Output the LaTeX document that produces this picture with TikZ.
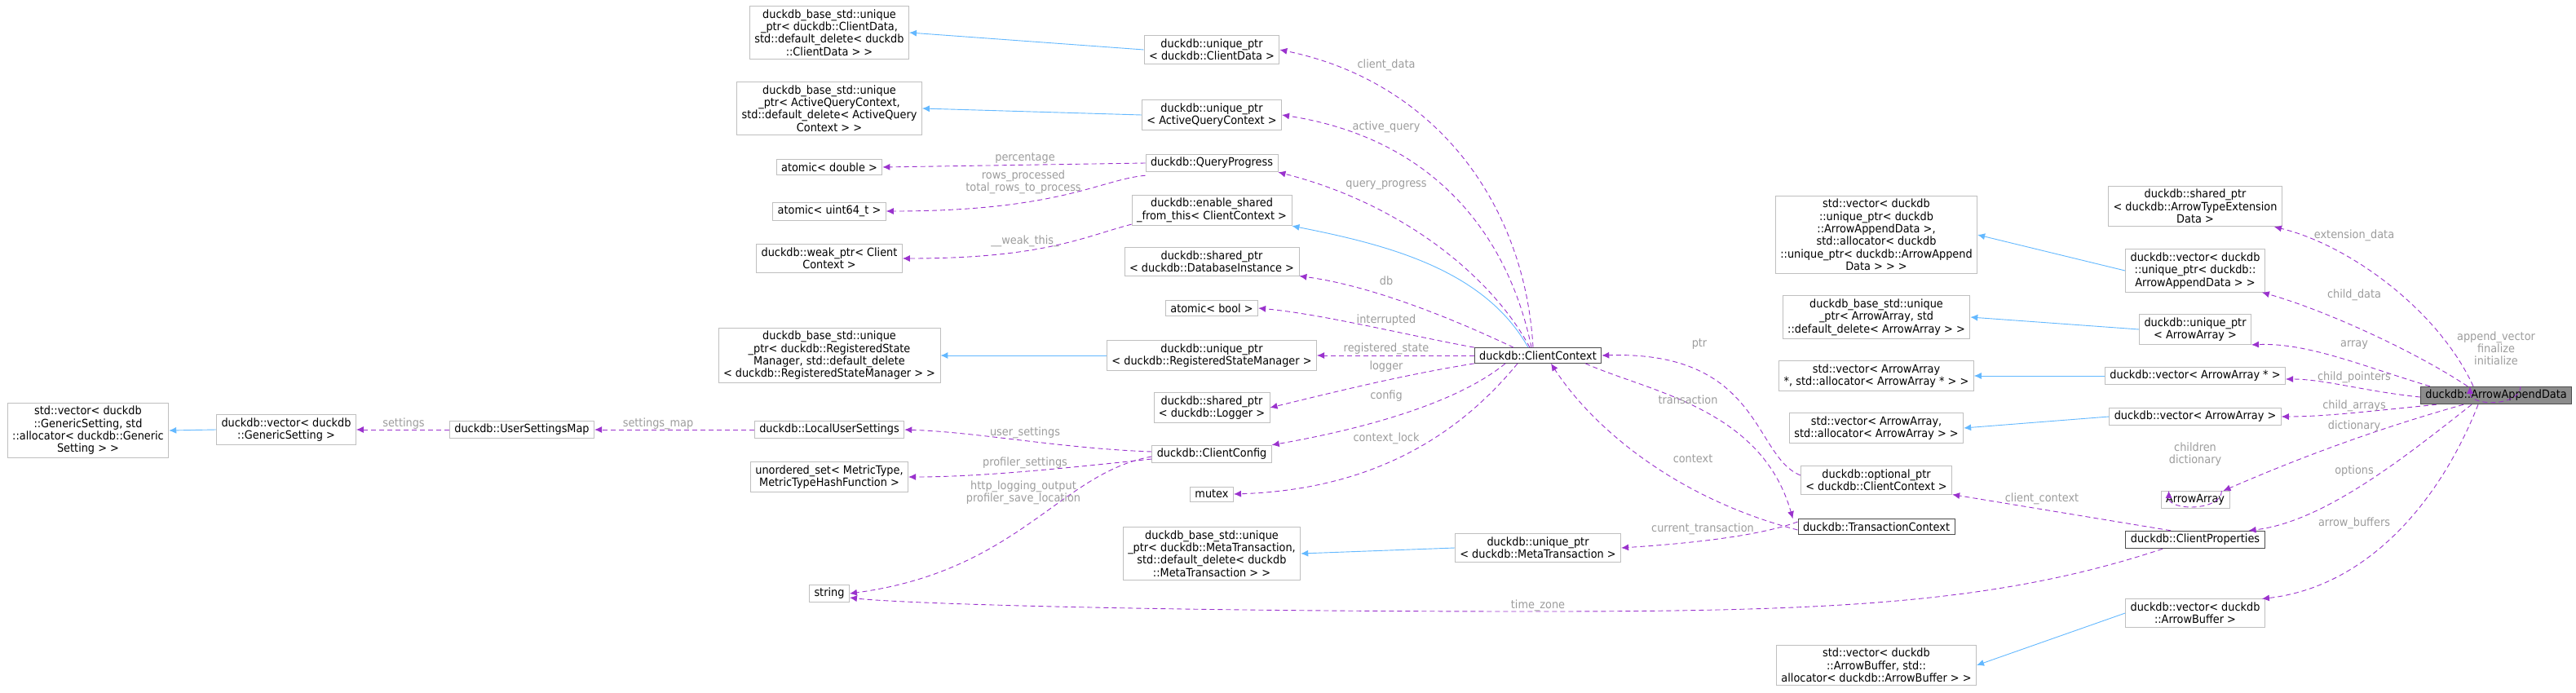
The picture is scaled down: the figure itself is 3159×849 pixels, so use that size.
\documentclass[tikz,border=0pt]{standalone}
\usepackage{fontspec}
\setmainfont{DejaVu Sans}[FakeStretch=0.92]
\usetikzlibrary{arrows.meta}
\definecolor{edgemember}{HTML}{9A32CD}
\definecolor{edgebase}{HTML}{63B8FF}
\definecolor{boxline}{HTML}{BFBFBF}
\definecolor{lbltext}{HTML}{9C9C9C}
\begin{document}
\begin{tikzpicture}[%
x=1pt,y=-1pt,
box/.style={draw=boxline,line width=0.9pt,fill=white,align=center,inner xsep=6pt,inner ysep=4pt,font=\fontsize{14}{15.4}\selectfont},
strong/.style={box,draw=black!70},
focus/.style={box,draw=black!70,fill=black!45},
lbl/.style={text=lbltext,align=center,font=\fontsize{14}{15}\selectfont},
member/.style={draw=edgemember,dashed,dash pattern=on 6pt off 4pt,line width=0.9pt,-{Latex[length=9pt,width=8pt]}},
base/.style={draw=edgebase,line width=0.9pt,-{Latex[length=9pt,width=8pt]}},
]
\useasboundingbox (0,0) rectangle (3159,849);
%% column 1;
\node[box] (stdvecgs) at (108,528) {std::vector< duckdb\\::GenericSetting, std\\::allocator< duckdb::Generic\\Setting > >};
\node[box] (vecgs) at (351,527) {duckdb::vector< duckdb\\::GenericSetting >};
\node[box] (usmap) at (640,527) {duckdb::UserSettingsMap};
%% column 2;
\node[box] (uqcdbase) at (1017,40) {duckdb\_base\_std::unique\\\_ptr< duckdb::ClientData,\\std::default\_delete< duckdb\\::ClientData > >};
\node[box] (uqaqbase) at (1017,133) {duckdb\_base\_std::unique\\\_ptr< ActiveQueryContext,\\std::default\_delete< ActiveQuery\\Context > >};
\node[box] (atomdbl) at (1017,205) {atomic< double >};
\node[box] (atomu64) at (1017,259) {atomic< uint64\_t >};
\node[box] (weakcc) at (1017,317) {duckdb::weak\_ptr< Client\\Context >};
\node[box] (uqrsbase) at (1017,436) {duckdb\_base\_std::unique\\\_ptr< duckdb::RegisteredState\\Manager, std::default\_delete\\< duckdb::RegisteredStateManager > >};
\node[box] (localus) at (1017,527) {duckdb::LocalUserSettings};
\node[box] (uset) at (1017,585) {unordered\_set< MetricType,\\MetricTypeHashFunction >};
\node[box] (str) at (1017,728) {string};
%% column 3;
\node[box] (uqcd) at (1486,61) {duckdb::unique\_ptr\\< duckdb::ClientData >};
\node[box] (uqaq) at (1486,141) {duckdb::unique\_ptr\\< ActiveQueryContext >};
\node[box] (qprog) at (1486,200) {duckdb::QueryProgress};
\node[box] (esft) at (1486,258) {duckdb::enable\_shared\\\_from\_this< ClientContext >};
\node[box] (spdb) at (1486,321) {duckdb::shared\_ptr\\< duckdb::DatabaseInstance >};
\node[box] (atombool) at (1486,378) {atomic< bool >};
\node[box] (uqrs) at (1486,436) {duckdb::unique\_ptr\\< duckdb::RegisteredStateManager >};
\node[box] (splog) at (1486,500) {duckdb::shared\_ptr\\< duckdb::Logger >};
\node[box] (cconf) at (1486,557) {duckdb::ClientConfig};
\node[box] (mtx) at (1486,606) {mutex};
\node[box] (uqmtbase) at (1486,679) {duckdb\_base\_std::unique\\\_ptr< duckdb::MetaTransaction,\\std::default\_delete< duckdb\\::MetaTransaction > >};
%% column 4;
\node[strong] (cctx) at (1886,436) {duckdb::ClientContext};
\node[box] (uqmt) at (1886,672) {duckdb::unique\_ptr\\< duckdb::MetaTransaction >};
%% column 5;
\node[box] (stdvecaad) at (2301,288) {std::vector< duckdb\\::unique\_ptr< duckdb\\::ArrowAppendData >,\\std::allocator< duckdb\\::unique\_ptr< duckdb::ArrowAppend\\Data > > >};
\node[box] (uqaabase) at (2301,389) {duckdb\_base\_std::unique\\\_ptr< ArrowArray, std\\::default\_delete< ArrowArray > >};
\node[box] (stdvecaap) at (2301,461) {std::vector< ArrowArray\\*, std::allocator< ArrowArray * > >};
\node[box] (stdvecaa) at (2301,525) {std::vector< ArrowArray,\\std::allocator< ArrowArray > >};
\node[box] (optcc) at (2301,589) {duckdb::optional\_ptr\\< duckdb::ClientContext >};
\node[strong] (tctx) at (2301,646) {duckdb::TransactionContext};
\node[box] (stdvecab) at (2301,816) {std::vector< duckdb\\::ArrowBuffer, std::\\allocator< duckdb::ArrowBuffer > >};
%% column 6;
\node[box] (spext) at (2692,253) {duckdb::shared\_ptr\\< duckdb::ArrowTypeExtension\\Data >};
\node[box] (vecaad) at (2692,332) {duckdb::vector< duckdb\\::unique\_ptr< duckdb::\\ArrowAppendData > >};
\node[box] (uqaa) at (2692,404) {duckdb::unique\_ptr\\< ArrowArray >};
\node[box] (vecaap) at (2692,461) {duckdb::vector< ArrowArray * >};
\node[box] (vecaa) at (2692,511) {duckdb::vector< ArrowArray >};
\node[box] (aarr) at (2692,613) {ArrowArray};
\node[strong] (cprops) at (2692,662) {duckdb::ClientProperties};
\node[box] (vecab) at (2692,752) {duckdb::vector< duckdb\\::ArrowBuffer >};
%% column 7;
\node[focus] (aad) at (3061,485) {duckdb::ArrowAppendData};
%% inheritance;
\draw[base] (uqcd.west) -- (uqcdbase.east);
\draw[base] (uqaq.west) -- (uqaqbase.east);
\draw[base] (uqrs.west) -- (uqrsbase.east);
\draw[base] (uqmt.west) -- (uqmtbase.east);
\draw[base] (vecgs.west) -- (stdvecgs.east);
\draw[base] (vecaad.west) -- (stdvecaad.east);
\draw[base] (uqaa.west) -- (uqaabase.east);
\draw[base] (vecaap.west) -- (stdvecaap.east);
\draw[base] (vecaa.west) -- (stdvecaa.east);
\draw[base] (vecab.west) -- (stdvecab.east);
\draw[base] ([xshift=-12pt]cctx.north) .. controls (1820,330) and (1700,300) .. (esft.south east);
%% ClientContext members;
\draw[member] ([xshift=-6pt]cctx.north) .. controls (1870,250) and (1760,100) .. (uqcd.east);
\draw[member] ([xshift=-8pt]cctx.north) .. controls (1850,290) and (1760,170) .. (uqaq.east);
\draw[member] ([xshift=-10pt]cctx.north) .. controls (1830,340) and (1720,250) .. (qprog.south east);
\draw[member] ([xshift=-30pt]cctx.north) .. controls (1780,390) and (1680,350) .. (spdb.south east);
\draw[member] (cctx.north west) .. controls (1720,410) and (1620,385) .. (atombool.east);
\draw[member] (cctx.west) -- (uqrs.east);
\draw[member] (cctx.south west) .. controls (1720,460) and (1640,480) .. (splog.east);
\draw[member] ([xshift=-40pt]cctx.south) .. controls (1780,500) and (1650,530) .. (cconf.north east);
\draw[member] ([xshift=-25pt]cctx.south) .. controls (1800,520) and (1700,600) .. (mtx.east);
\draw[member] ([xshift=-20pt]cctx.south east) .. controls (2020,480) and (2160,500) .. ([xshift=-6pt]tctx.north west);
\node[lbl] (lcd) at (1700,80) {client\_data};
\node[lbl] (laq) at (1700,156) {active\_query};
\node[lbl] (lqp) at (1700,227) {query\_progress};
\node[lbl] (ldb) at (1700,344) {db};
\node[lbl] (lint) at (1700,393) {interrupted};
\node[lbl] (lrs) at (1700,428) {registered\_state};
\node[lbl] (llog) at (1700,450) {logger};
\node[lbl] (lconf) at (1700,486) {config};
\node[lbl] (lcl) at (1700,538) {context\_lock};
\node[lbl] (ltr) at (2070,490) {transaction};
%% back references;
\draw[member] ([yshift=6pt]optcc.west) .. controls (2150,560) and (2160,430) .. (cctx.east);
\draw[member] ([yshift=-4pt]tctx.west) .. controls (2050,610) and (1950,520) .. ([xshift=16pt]cctx.south);
\draw[member] ([yshift=6pt]tctx.west) .. controls (2150,660) and (2050,668) .. (uqmt.east);
\node[lbl] (lptr) at (2084,422) {ptr};
\node[lbl] (lctx) at (2076,563) {context};
\node[lbl] (lct) at (2088,649) {current\_transaction};
%% QueryProgress, enable_shared, ClientConfig;
\draw[member] (qprog.west) -- (atomdbl.east);
\draw[member] ([yshift=-4pt]qprog.south west) .. controls (1350,220) and (1300,259) .. (atomu64.east);
\draw[member] ([yshift=2pt]esft.south west) .. controls (1330,290) and (1280,317) .. (weakcc.east);
\draw[member] ([yshift=3pt]cconf.west) .. controls (1300,550) and (1200,530) .. (localus.east);
\draw[member] ([yshift=-6pt]cconf.west) .. controls (1300,575) and (1200,585) .. (uset.east);
\draw[member] ([yshift=-3pt]cconf.west) .. controls (1300,580) and (1250,700) .. (str.east);
\draw[member] (localus.west) -- (usmap.east);
\draw[member] (usmap.west) -- (vecgs.east);
\node[lbl] (lpct) at (1257,194) {percentage};
\node[lbl] (lrows) at (1255,223) {rows\_processed\\total\_rows\_to\_process};
\node[lbl] (lwt) at (1257,296) {\_\_weak\_this\_};
\node[lbl] (lus) at (1257,531) {user\_settings};
\node[lbl] (lps) at (1257,568) {profiler\_settings};
\node[lbl] (lhttp) at (1255,604) {http\_logging\_output\\profiler\_save\_location};
\node[lbl] (lsm) at (807,520) {settings\_map};
\node[lbl] (lset) at (495,520) {settings};
%% ClientProperties;
\draw[member] ([xshift=-30pt]cprops.north) -- (optcc.south east);
\draw[member] ([xshift=-40pt]cprops.south) .. controls (2450,740) and (2250,750) .. (1886,750) .. controls (1400,750) and (1100,740) .. ([yshift=-5pt]str.east);
\node[lbl] (lcc) at (2504,612) {client\_context};
\node[lbl] (ltz) at (1886,743) {time\_zone};
%% ArrowAppendData members;
\draw[member] ([xshift=-28pt]aad.north) .. controls (2990,380) and (2880,300) .. ([xshift=-10pt]spext.south east);
\draw[member] ([xshift=-35pt]aad.north) .. controls (2960,430) and (2850,380) .. ([xshift=-4pt]vecaad.south east);
\draw[member] ([xshift=12pt]aad.north west) .. controls (2900,450) and (2830,420) .. (uqaa.south east);
\draw[member] ([yshift=-2pt]aad.west) .. controls (2900,480) and (2850,465) .. ([yshift=-4pt]vecaap.east);
\draw[member] ([xshift=20pt]aad.south west) .. controls (2900,505) and (2850,511) .. (vecaa.east);
\draw[member] ([xshift=-40pt]aad.south) .. controls (2900,530) and (2800,570) .. ([xshift=-8pt]aarr.north east);
\draw[member] ([xshift=-30pt]aad.south) .. controls (2950,560) and (2850,640) .. ([xshift=-20pt]cprops.north east);
\draw[member] ([xshift=-22pt]aad.south) .. controls (2990,620) and (2900,720) .. ([xshift=-4pt]vecab.north east);
\draw[member] ([xshift=30pt]aad.north) .. controls ([xshift=30pt,yshift=-25pt]aad.north) and ([xshift=-32pt,yshift=-25pt]aad.north) .. ([xshift=-32pt]aad.north);
\draw[member] ([xshift=-10pt]aarr.north east) .. controls ([xshift=-10pt,yshift=-25pt]aarr.north east) and ([xshift=10pt,yshift=-25pt]aarr.north west) .. ([xshift=10pt]aarr.north west);
\node[lbl] (lext) at (2887,289) {extension\_data};
\node[lbl] (lchd) at (2887,362) {child\_data};
\node[lbl] (larr) at (2887,423) {array};
\node[lbl] (lcp) at (2887,463) {child\_pointers};
\node[lbl] (lca) at (2887,498) {child\_arrays};
\node[lbl] (ldict) at (2887,523) {dictionary};
\node[lbl] (lopt) at (2887,578) {options};
\node[lbl] (lab) at (2887,642) {arrow\_buffers};
\node[lbl] (lself) at (3061,427) {append\_vector\\finalize\\initialize};
\node[lbl] (lchild) at (2692,557) {children\\dictionary};
\end{tikzpicture}
\end{document}
